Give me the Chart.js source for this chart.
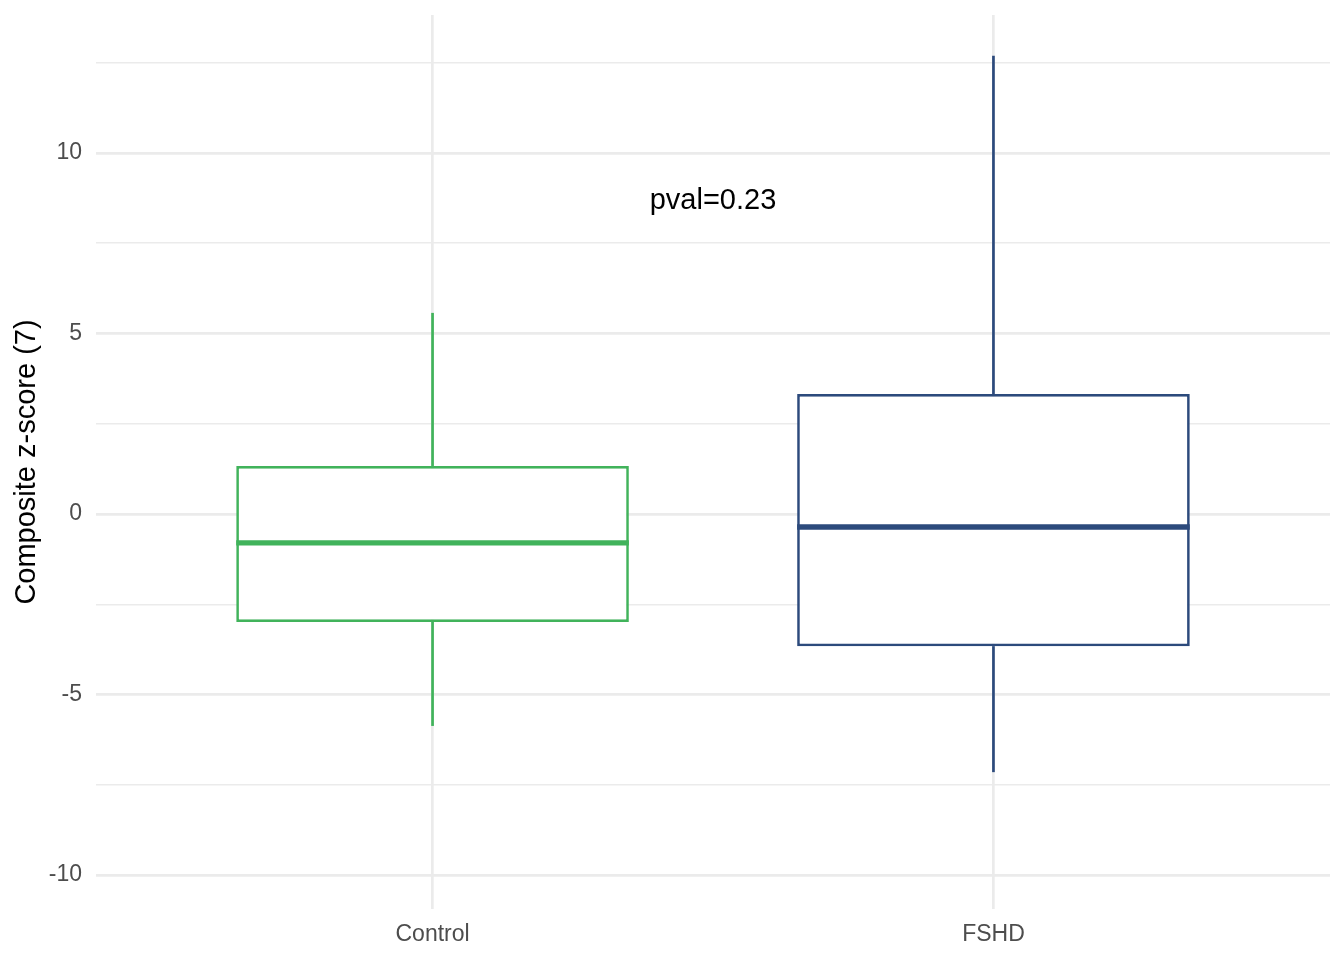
<!DOCTYPE html>
<html>
<head>
<meta charset="utf-8">
<script src="https://cdn.jsdelivr.net/npm/chart.js@4.4.1/dist/chart.umd.min.js"></script>
<style>
  body { margin: 0; background: #fff; }
  #wrap { width: 1344px; height: 960px; }
</style>
</head>
<body>
<div id="wrap"><canvas id="boxChart" width="1344" height="960"></canvas></div>
<script>
// box plot summaries
const groups = ["Control", "FSHD"];
const groupPos = [1, 2];
const whiskerLow = [-5.87, -7.15];
const boxLow = [-2.99, -3.66];
const medians = [-0.80, -0.36];
const boxHigh = [1.33, 3.32];
const whiskerHigh = [5.57, 12.69];
const colors = ["#41b35b", "#2c4a7c"];

const majorTicks = [-10, -5, 0, 5, 10];
const minorTicks = [-7.5, -2.5, 2.5, 7.5, 12.5];
const yMin = -10.94, yMax = 13.82;
const xMin = 0.4, xMax = 2.6;

const pvalLabel = "pval=0.23";
const pvalAt = { x: 1.5, y: 8.68 };

const FONT = "'Liberation Sans', Arial, Helvetica, sans-serif";

function whiskerSet(i, lo, hi) {
    return {
        type: 'line',
        data: [{ x: groupPos[i], y: lo }, { x: groupPos[i], y: hi }],
        borderColor: colors[i],
        borderWidth: 2.7,
        pointRadius: 0,
        fill: false,
        order: 2
    };
}

const whiskers = [];
groups.forEach((g, i) => {
    whiskers.push(whiskerSet(i, boxHigh[i], whiskerHigh[i]));
    whiskers.push(whiskerSet(i, whiskerLow[i], boxLow[i]));
});

// median bars + p-value text, positioned through the chart scales
const boxExtras = {
    id: 'boxExtras',
    afterDatasetsDraw(chart) {
        const ctx = chart.ctx;
        const y = chart.scales.y;
        const x = chart.scales.x;
        const meta = chart.getDatasetMeta(0);
        ctx.save();
        meta.data.forEach((bar, i) => {
            const py = y.getPixelForValue(medians[i]);
            ctx.strokeStyle = colors[i];
            ctx.lineWidth = 5.4;
            ctx.beginPath();
            ctx.moveTo(bar.x - bar.width / 2, py);
            ctx.lineTo(bar.x + bar.width / 2, py);
            ctx.stroke();
        });
        ctx.fillStyle = '#000';
        ctx.font = '29px ' + FONT;
        ctx.textAlign = 'center';
        ctx.textBaseline = 'middle';
        ctx.fillText(pvalLabel, x.getPixelForValue(pvalAt.x), y.getPixelForValue(pvalAt.y));
        ctx.restore();
    }
};

document.addEventListener("DOMContentLoaded", () => {
    const ctx = document.getElementById('boxChart').getContext('2d');

    new Chart(ctx, {
        type: 'bar',
        data: {
            datasets: [{
                data: groups.map((g, i) => ({ x: groupPos[i], y: [boxLow[i], boxHigh[i]] })),
                backgroundColor: '#ffffff',
                borderColor: colors,
                borderWidth: 2.7,
                borderSkipped: false,
                barPercentage: 0.7,
                categoryPercentage: 1,
                order: 1
            }, ...whiskers]
        },
        options: {
            responsive: false,
            animation: false,
            layout: { padding: { left: 0, right: 14, top: 15, bottom: 0 } },
            plugins: {
                legend: { display: false },
                tooltip: { enabled: false }
            },
            scales: {
                x: {
                    type: 'linear',
                    min: xMin,
                    max: xMax,
                    offset: false,
                    border: { display: false },
                    grid: { color: '#ebebeb', lineWidth: 2.7, drawTicks: false, offset: false },
                    afterBuildTicks: (scale) => {
                        scale.ticks = groupPos.map(v => ({ value: v }));
                    },
                    afterFit: (scale) => {
                        scale.height = 51;
                        scale.paddingLeft = 0;
                        scale.paddingRight = 0;
                    },
                    ticks: {
                        padding: 12,
                        color: '#4d4d4d',
                        font: { family: FONT, size: 23 },
                        callback: (v) => groups[groupPos.indexOf(v)] || ''
                    }
                },
                y: {
                    min: yMin,
                    max: yMax,
                    border: { display: false },
                    grid: {
                        color: '#ebebeb',
                        drawTicks: false,
                        lineWidth: (c) => majorTicks.includes(c.tick.value) ? 2.7 : 1.4
                    },
                    afterBuildTicks: (scale) => {
                        scale.ticks = majorTicks.concat(minorTicks).sort((a, b) => a - b).map(v => ({ value: v }));
                    },
                    afterFit: (scale) => {
                        scale.width = 96;
                        scale.paddingTop = 0;
                        scale.paddingBottom = 0;
                    },
                    ticks: {
                        padding: 14,
                        color: '#4d4d4d',
                        font: { family: FONT, size: 23 },
                        callback: (v) => majorTicks.includes(v) ? String(v) : ''
                    },
                    title: {
                        display: true,
                        text: 'Composite z-score (7)',
                        color: '#000',
                        padding: { top: 10, bottom: 0 },
                        font: { family: FONT, size: 29 }
                    }
                }
            }
        },
        plugins: [boxExtras]
    });
});
</script>
</body>
</html>
